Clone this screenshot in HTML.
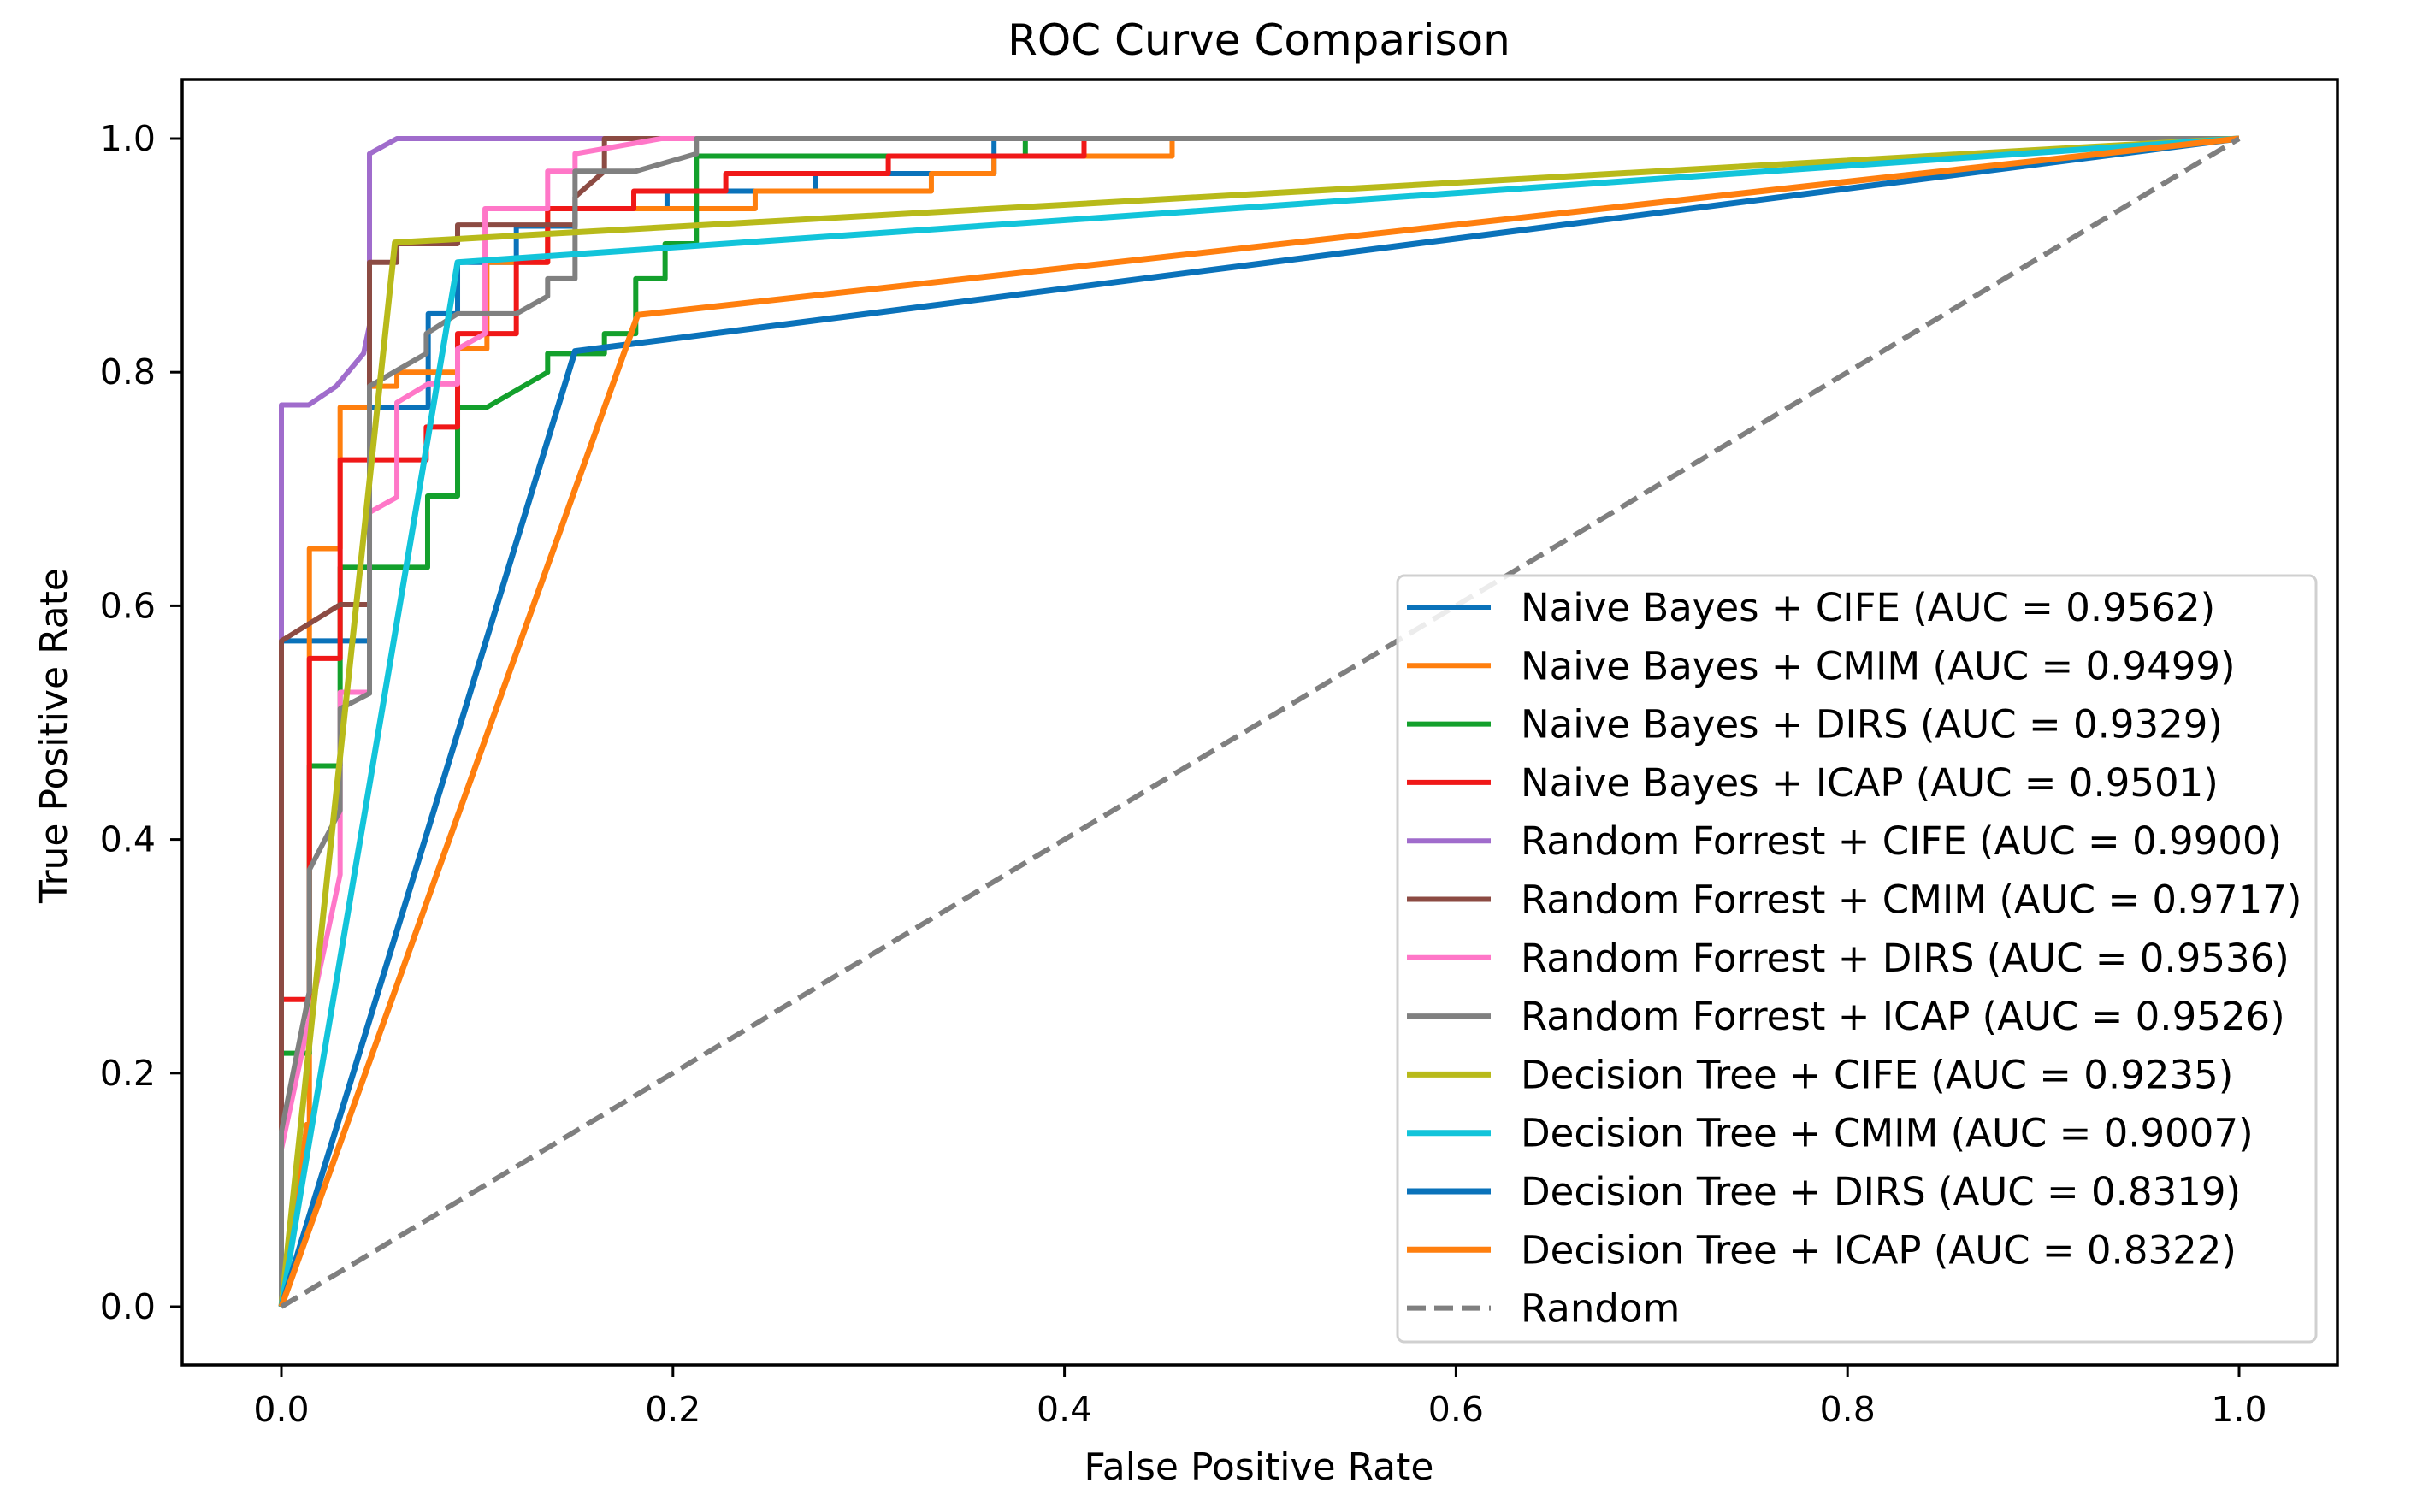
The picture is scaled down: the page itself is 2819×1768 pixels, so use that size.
<!DOCTYPE html>
<html><head><meta charset="utf-8">
<style>
html,body{margin:0;padding:0;background:#fff;}
svg{display:block;}
text{font-family:"DejaVu Sans","Liberation Sans",sans-serif;fill:#000;}
</style></head>
<body>
<svg id="chart" width="2819" height="1768" viewBox="0 0 2819 1768" xmlns="http://www.w3.org/2000/svg">
<rect x="0" y="0" width="2819" height="1768" fill="#fff"/>
<text x="1472" y="64" font-size="50" text-anchor="middle">ROC Curve Comparison</text>
<text x="1472" y="1730" font-size="44" text-anchor="middle">False Positive Rate</text>
<text x="0" y="0" font-size="44" text-anchor="middle" transform="translate(78,860) rotate(-90)">True Positive Rate</text>
<g id="plot"></g>
<rect x="213" y="93" width="2520" height="1503" fill="none" stroke="#000" stroke-width="3.5"/>
<g id="ticks"></g>
<g id="legend"></g>
</svg>
<script>
const seriesNames = ["Naive Bayes + CIFE (AUC = 0.9562)","Naive Bayes + CMIM (AUC = 0.9499)","Naive Bayes + DIRS (AUC = 0.9329)","Naive Bayes + ICAP (AUC = 0.9501)","Random Forrest + CIFE (AUC = 0.9900)","Random Forrest + CMIM (AUC = 0.9717)","Random Forrest + DIRS (AUC = 0.9536)","Random Forrest + ICAP (AUC = 0.9526)","Decision Tree + CIFE (AUC = 0.9235)","Decision Tree + CMIM (AUC = 0.9007)","Decision Tree + DIRS (AUC = 0.8319)","Decision Tree + ICAP (AUC = 0.8322)"];
const nbCifeFpr = [0,0,0.045,0.045,0.075,0.075,0.09,0.09,0.12,0.12,0.15,0.15,0.197,0.197,0.273,0.273,0.364,0.364,1];
const nbCifeTpr = [0,0.57,0.57,0.77,0.77,0.85,0.85,0.894,0.894,0.925,0.925,0.94,0.94,0.955,0.955,0.97,0.97,1,1];
const nbCmimFpr = [0,0.013,0.0143,0.0143,0.03,0.03,0.045,0.045,0.059,0.059,0.09,0.09,0.105,0.105,0.136,0.136,0.242,0.242,0.332,0.332,0.364,0.364,0.455,0.455,1];
const nbCmimTpr = [0,0.156,0.156,0.649,0.649,0.77,0.77,0.788,0.788,0.80,0.80,0.82,0.82,0.894,0.894,0.94,0.94,0.955,0.955,0.97,0.97,0.985,0.985,1,1];
const nbDirsFpr = [0,0,0.0143,0.0143,0.03,0.03,0.0747,0.0747,0.09,0.09,0.105,0.136,0.136,0.165,0.165,0.181,0.181,0.196,0.196,0.212,0.212,0.38,0.38,1];
const nbDirsTpr = [0,0.217,0.217,0.463,0.463,0.633,0.633,0.694,0.694,0.77,0.77,0.80,0.816,0.816,0.833,0.833,0.88,0.88,0.91,0.91,0.985,0.985,1,1];
const nbIcapFpr = [0,0,0.0143,0.0143,0.03,0.03,0.074,0.074,0.09,0.09,0.12,0.12,0.136,0.136,0.18,0.18,0.227,0.227,0.31,0.31,0.41,0.41,1];
const nbIcapTpr = [0,0.263,0.263,0.555,0.555,0.725,0.725,0.753,0.753,0.833,0.833,0.894,0.894,0.94,0.94,0.955,0.955,0.97,0.97,0.985,0.985,1,1];
const rfCifeFpr = [0,0,0.014,0.028,0.042,0.045,0.045,0.059,1];
const rfCifeTpr = [0,0.772,0.772,0.788,0.816,0.84,0.987,1,1];
const rfCmimFpr = [0,0,0.03,0.045,0.045,0.059,0.059,0.09,0.09,0.15,0.15,0.165,0.165,1];
const rfCmimTpr = [0,0.57,0.601,0.601,0.894,0.894,0.91,0.91,0.926,0.926,0.95,0.972,1,1];
const rfDirsFpr = [0,0,0.03,0.03,0.045,0.045,0.059,0.059,0.075,0.09,0.09,0.104,0.104,0.136,0.136,0.15,0.15,0.194,1];
const rfDirsTpr = [0,0.135,0.37,0.526,0.526,0.68,0.693,0.774,0.79,0.79,0.82,0.833,0.94,0.94,0.972,0.972,0.987,1,1];
const rfIcapFpr = [0,0,0.0143,0.0143,0.03,0.03,0.045,0.045,0.074,0.074,0.09,0.12,0.136,0.136,0.15,0.15,0.181,0.212,0.212,1];
const rfIcapTpr = [0,0.15,0.27,0.374,0.425,0.512,0.525,0.788,0.816,0.833,0.85,0.85,0.865,0.88,0.88,0.972,0.972,0.987,1,1];
const dtCifeFpr = [0,0.058,1];
const dtCifeTpr = [0,0.911,1];
const dtCmimFpr = [0,0.09,1];
const dtCmimTpr = [0,0.894,1];
const dtDirsFpr = [0,0.15,1];
const dtDirsTpr = [0,0.818,1];
const dtIcapFpr = [0,0.182,1];
const dtIcapTpr = [0,0.849,1];
const randomFpr = [0,1];
const randomTpr = [0,1];
const xTicks = [0,0.2,0.4,0.6,0.8,1.0];
const yTicks = [0,0.2,0.4,0.6,0.8,1.0];
const xTickLabels = ["0.0","0.2","0.4","0.6","0.8","1.0"];
const yTickLabels = ["0.0","0.2","0.4","0.6","0.8","1.0"];

const allFpr = [nbCifeFpr,nbCmimFpr,nbDirsFpr,nbIcapFpr,rfCifeFpr,rfCmimFpr,rfDirsFpr,rfIcapFpr,dtCifeFpr,dtCmimFpr,dtDirsFpr,dtIcapFpr];
const allTpr = [nbCifeTpr,nbCmimTpr,nbDirsTpr,nbIcapTpr,rfCifeTpr,rfCmimTpr,rfDirsTpr,rfIcapTpr,dtCifeTpr,dtCmimTpr,dtDirsTpr,dtIcapTpr];
const colors = ["#0a72ba","#ff7f0e","#13a02c","#f01818","#a06ccc","#8c4b43","#ff77c8","#808080","#b8ba1a","#12c4da","#0a72ba","#ff7f0e"];
const widths = [6,6,6,6,6,6,6,6,7,7,7,7];

const NS = "http://www.w3.org/2000/svg";
function sx(v){ return 329 + v*2289; }
function sy(v){ return 1528 - v*1366; }

const plot = document.getElementById('plot');
for (let i=0;i<allFpr.length;i++){
  const p = document.createElementNS(NS,'polyline');
  
  
  p.setAttribute('points', allFpr[i].map((x,j)=>sx(x)+','+sy(allTpr[i][j])).join(' '));
  p.setAttribute('fill','none');
  p.setAttribute('stroke',colors[i]);
  p.setAttribute('stroke-width',widths[i]);
  p.setAttribute('stroke-linejoin','round');
  plot.appendChild(p);
}
const rl = document.createElementNS(NS,'polyline');


rl.setAttribute('points', randomFpr.map((x,j)=>sx(x)+','+sy(randomTpr[j])).join(' '));
rl.setAttribute('fill','none');
rl.setAttribute('stroke','#7f7f7f');
rl.setAttribute('stroke-width','6');
rl.setAttribute('stroke-dasharray','22 10');
plot.appendChild(rl);

const ticks = document.getElementById('ticks');
xTicks.forEach((v,i)=>{
  const l = document.createElementNS(NS,'line');
  
  
  l.setAttribute('x1',sx(v)); l.setAttribute('x2',sx(v));
  l.setAttribute('y1',1596); l.setAttribute('y2',1610);
  l.setAttribute('stroke','#000'); l.setAttribute('stroke-width','3');
  ticks.appendChild(l);
  const t = document.createElementNS(NS,'text');
  
  
  t.setAttribute('x',sx(v)); t.setAttribute('y',1662);
  t.setAttribute('font-size','41'); t.setAttribute('text-anchor','middle');
  t.textContent = xTickLabels[i];
  ticks.appendChild(t);
});
yTicks.forEach((v,i)=>{
  const l = document.createElementNS(NS,'line');
  
  
  l.setAttribute('x1',199); l.setAttribute('x2',213);
  l.setAttribute('y1',sy(v)); l.setAttribute('y2',sy(v));
  l.setAttribute('stroke','#000'); l.setAttribute('stroke-width','3');
  ticks.appendChild(l);
  const t = document.createElementNS(NS,'text');
  
  
  t.setAttribute('x',182); t.setAttribute('y',sy(v)+14);
  t.setAttribute('font-size','41'); t.setAttribute('text-anchor','end');
  t.textContent = yTickLabels[i];
  ticks.appendChild(t);
});

const legend = document.getElementById('legend');
const box = document.createElementNS(NS,'rect');


box.setAttribute('x',1634); box.setAttribute('y',673);
box.setAttribute('width',1074); box.setAttribute('height',896);
box.setAttribute('rx',8);
box.setAttribute('fill','rgba(255,255,255,0.85)');
box.setAttribute('stroke','#d0d0d0'); box.setAttribute('stroke-width','3');
legend.appendChild(box);
const legNames = seriesNames.concat(["Random"]);
legNames.forEach((name,i)=>{
  const y = 710 + i*68.3;
  const l = document.createElementNS(NS,'line');
  
  
  l.setAttribute('x1',1645); l.setAttribute('x2',1743);
  l.setAttribute('y1',y); l.setAttribute('y2',y);
  if (i < seriesNames.length){
    l.setAttribute('stroke',colors[i]); l.setAttribute('stroke-width',widths[i]);
  } else {
    l.setAttribute('stroke','#7f7f7f'); l.setAttribute('stroke-width','6');
    l.setAttribute('stroke-dasharray','22 10');
  }
  legend.appendChild(l);
  const t = document.createElementNS(NS,'text');
  
  
  t.setAttribute('x',1778); t.setAttribute('y',y+16);
  t.setAttribute('font-size','45');
  t.textContent = name;
  legend.appendChild(t);
});
</script>
</body></html>
